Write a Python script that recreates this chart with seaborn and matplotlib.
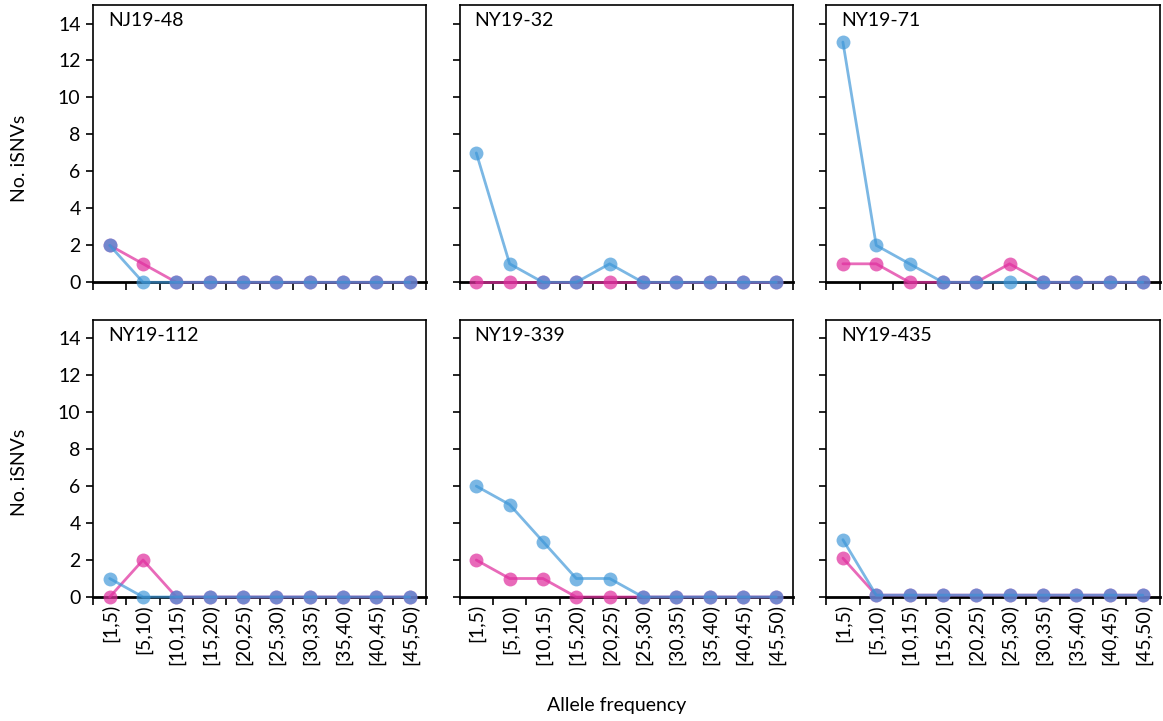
import numpy as np
import pandas as pd
import matplotlib
matplotlib.use("Agg")
import matplotlib.pyplot as plt
import seaborn as sns

bins = ["[1,5)", "[5,10)", "[10,15)", "[15,20)", "[20,25)",
        "[25,30)", "[30,35)", "[35,40)", "[40,45)", "[45,50)"]
samples = ["NJ19-48", "NY19-32", "NY19-71", "NY19-112", "NY19-339", "NY19-435"]

blue_counts = {
    "NJ19-48":  [2, 0, 0, 0, 0, 0, 0, 0, 0, 0],
    "NY19-32":  [7, 1, 0, 0, 1, 0, 0, 0, 0, 0],
    "NY19-71":  [13, 2, 1, 0, 0, 0, 0, 0, 0, 0],
    "NY19-112": [1, 0, 0, 0, 0, 0, 0, 0, 0, 0],
    "NY19-339": [6, 5, 3, 1, 1, 0, 0, 0, 0, 0],
    "NY19-435": [3.1, 0.1, 0.1, 0.1, 0.1, 0.1, 0.1, 0.1, 0.1, 0.1],
}
pink_counts = {
    "NJ19-48":  [2, 1, 0, 0, 0, 0, 0, 0, 0, 0],
    "NY19-32":  [0, 0, 0, 0, 0, 0, 0, 0, 0, 0],
    "NY19-71":  [1, 1, 0, 0, 0, 1, 0, 0, 0, 0],
    "NY19-112": [0, 2, 0, 0, 0, 0, 0, 0, 0, 0],
    "NY19-339": [2, 1, 1, 0, 0, 0, 0, 0, 0, 0],
    "NY19-435": [2.1, 0.1, 0.1, 0.1, 0.1, 0.1, 0.1, 0.1, 0.1, 0.1],
}

pink = "#E0309F"
blue = "#3C96D8"

sns.set_theme(style="white")
plt.rcParams["font.family"] = ["Lato", "DejaVu Sans"]
plt.rcParams["text.color"] = "black"
plt.rcParams["xtick.color"] = "black"
plt.rcParams["ytick.color"] = "black"

fig, axes = plt.subplots(2, 3, figsize=(11.63, 7.21), dpi=100)
fig.subplots_adjust(left=0.080, right=0.997, top=0.993, bottom=0.172,
                    wspace=0.10, hspace=0.135)

xpos = np.arange(len(bins)) + 0.5

for i, (ax, s) in enumerate(zip(axes.flat, samples)):
    df = pd.DataFrame({
        "x": np.concatenate([xpos, xpos]),
        "y": pink_counts[s] + blue_counts[s],
        "grp": ["pink"] * len(bins) + ["blue"] * len(bins),
    })
    sns.lineplot(data=df[df.grp == "pink"], x="x", y="y", ax=ax, color=pink,
                 alpha=0.72, lw=2, marker="o", markersize=10,
                 markeredgewidth=0, clip_on=False, zorder=3)
    sns.lineplot(data=df[df.grp == "blue"], x="x", y="y", ax=ax, color=blue,
                 alpha=0.68, lw=2, marker="o", markersize=10,
                 markeredgewidth=0, clip_on=False, zorder=4)

    ax.set_xlim(0, len(bins))
    ax.set_ylim(0, 15)
    ax.set_yticks(range(0, 15, 2))
    ax.set_xticks(range(len(bins) + 1))
    ax.set_xticklabels([])
    ax.set_xticks(xpos, minor=True)
    ax.tick_params(axis="x", which="major", direction="out", length=6,
                   width=1.2, color="black", bottom=True)
    ax.tick_params(axis="x", which="minor", length=0, bottom=True, pad=5)
    ax.tick_params(axis="y", direction="out", length=5, width=1.2,
                   color="black", left=True, labelsize=14, pad=4)
    if i >= 3:
        ax.set_xticklabels(bins, minor=True, rotation=90, fontsize=14)
    if i % 3 != 0:
        ax.set_yticklabels([])
    ax.set_xlabel("")
    ax.set_ylabel("")
    for sp in ax.spines.values():
        sp.set_visible(True)
        sp.set_color("black")
        sp.set_linewidth(1.2)
    ax.spines["bottom"].set_linewidth(2)
    ax.text(0.045, 0.975, s, transform=ax.transAxes, ha="left", va="top",
            fontsize=14)

fig.text(0.017, 0.78, "No. iSNVs", rotation=90, ha="center", va="center",
         fontsize=14)
fig.text(0.017, 0.345, "No. iSNVs", rotation=90, ha="center", va="center",
         fontsize=14)
fig.text(0.53, 0.022, "Allele frequency", ha="center", va="center",
         fontsize=14)

fig.savefig("out.png", dpi=100)
